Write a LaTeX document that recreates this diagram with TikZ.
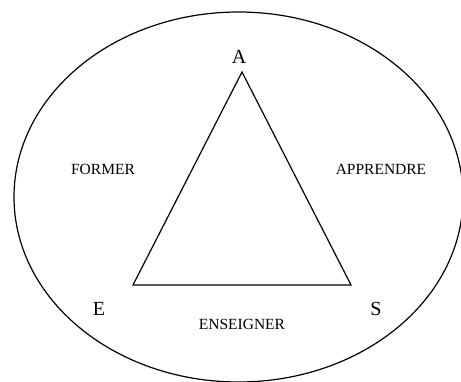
\documentclass[tikz,border=0pt]{standalone}
\usepackage{fontspec}
\setmainfont{Liberation Serif}

\begin{document}
\begin{tikzpicture}
[
	x=1pt, y=1pt,
	vertex/.style={font=\fontsize{20}{22}\selectfont, inner sep=0pt},
	verb/.style={font=\fontsize{15.5}{18}\selectfont, inner sep=0pt},
	line width=1.2pt
]

	\useasboundingbox (0,0) rectangle (461,381);

	% ellipse
	\draw (238.5,184) ellipse [x radius=224.5, y radius=185];

	% triangle
	\coordinate (a) at (242,309);
	\coordinate (e) at (133,96);
	\coordinate (s) at (351,96);
	\draw[line join=miter] (a) -- (e) -- (s) -- cycle;

	% corners
	\node[vertex] (la) at (239,324) {A};
	\node[vertex] (le) at (99,72) {E};
	\node[vertex] (ls) at (376,72) {S};

	% verbs
	\node[verb] (former) at (103,212) {FORMER};
	\node[verb] (apprendre) at (381,212) {APPRENDRE};
	\node[verb] (enseigner) at (242,57) {ENSEIGNER};

\end{tikzpicture}
\end{document}
